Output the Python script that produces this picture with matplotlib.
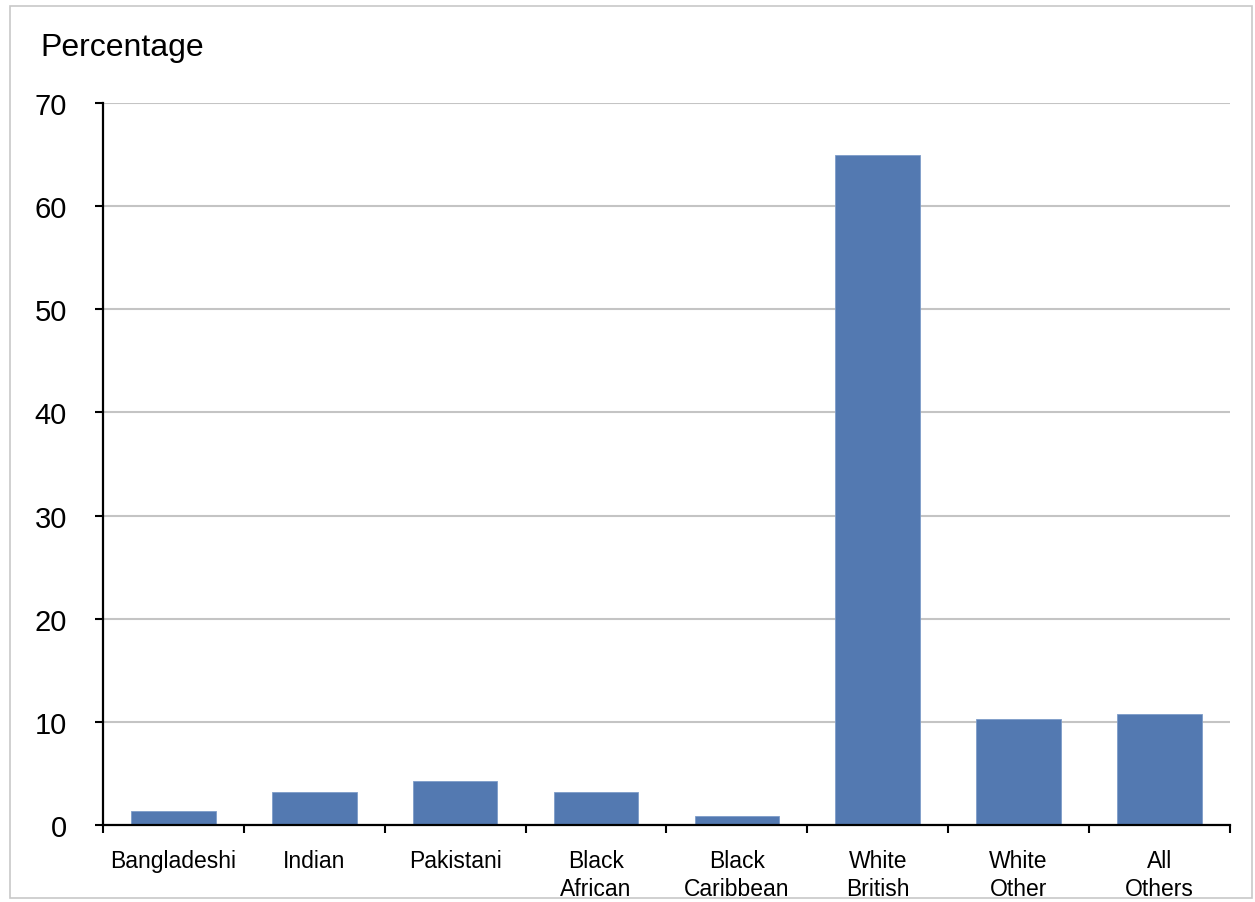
import matplotlib
matplotlib.use("Agg")
import matplotlib.pyplot as plt
from matplotlib.patches import Rectangle
import numpy as np

# values
categories = ["Bangladeshi", "Indian", "Pakistani", "Black\nAfrican", "Black\nCaribbean",
              "White\nBritish", "White\nOther", "All\nOthers"]
percentages = [1.4, 3.2, 4.3, 3.2, 0.9, 65.0, 10.3, 10.8]
y_ticks = [0, 10, 20, 30, 40, 50, 60, 70]

plt.rcParams['font.family'] = ['Liberation Sans', 'DejaVu Sans']

fig = plt.figure(figsize=(12.55, 9.03), dpi=100)
ax = fig.add_axes([0.0821, 0.0853, 0.8979, 0.7995])

x = np.arange(len(categories))
ax.bar(x, percentages, width=0.6, color='#5379b1', edgecolor='#7d9cc9', linewidth=0.6, zorder=3)

ax.set_xlim(-0.5, len(categories) - 0.5)
ax.set_ylim(0, 70)
ax.set_yticks(y_ticks)
ax.set_yticklabels([str(t) for t in y_ticks], fontsize=21)
ax.yaxis.grid(True, color='#c4c4c4', linewidth=1.5, zorder=0)

# category labels centred, ticks at category boundaries
ax.set_xticks(x)
ax.set_xticklabels(categories, fontsize=16.5, linespacing=1.3)
ax.tick_params(axis='x', which='major', length=0, pad=17)
ax.set_xticks(np.arange(len(categories) + 1) - 0.5, minor=True)
ax.tick_params(axis='x', which='minor', length=6, width=1.5, direction='out')
ax.tick_params(axis='y', length=6, width=1.5, direction='out', pad=20)

for side in ['top', 'right']:
    ax.spines[side].set_visible(False)
for side in ['left', 'bottom']:
    ax.spines[side].set_linewidth(1.6)
    ax.spines[side].set_zorder(4)

fig.text(0.032, 0.947, "Percentage", fontsize=23, ha='left', va='center')

# light border round the whole chart
fig.patches.append(Rectangle((0.008, 0.004), 0.990, 0.988, transform=fig.transFigure,
                             fill=False, edgecolor='#c8c8c8', linewidth=1.2))

fig.savefig("out.png", dpi=100)
